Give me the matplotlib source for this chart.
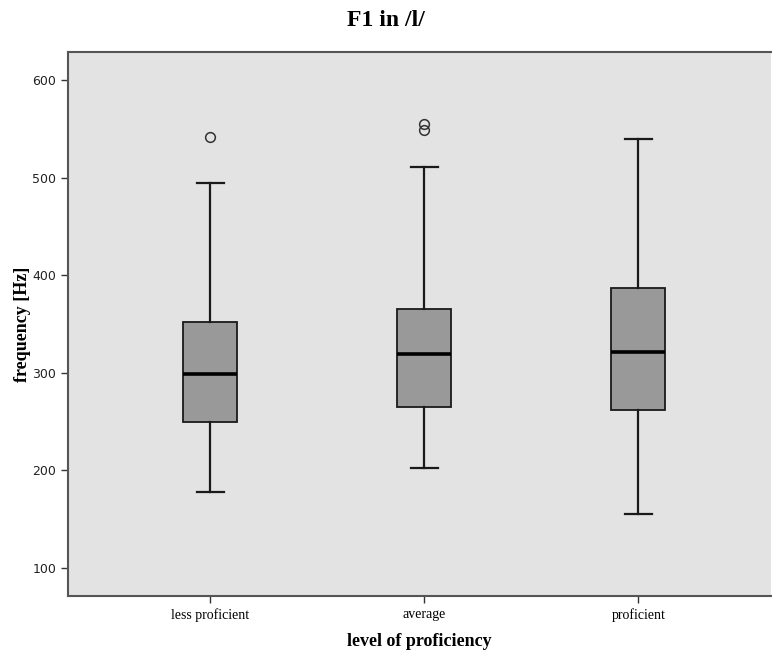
import matplotlib
matplotlib.use("Agg")
import matplotlib.pyplot as plt

categories = ["less proficient", "average", "proficient"]
whislo = [178, 202, 155]
q1 = [250, 265, 262]
med = [299, 319, 321]
q3 = [352, 365, 387]
whishi = [494, 511, 540]
fliers = [[542], [549, 555], []]
yticks = [100, 200, 300, 400, 500, 600]

stats = []
for i, c in enumerate(categories):
    stats.append(dict(label=c, whislo=whislo[i], q1=q1[i], med=med[i],
                      q3=q3[i], whishi=whishi[i], fliers=fliers[i]))

fig = plt.figure(figsize=(7.72, 6.54), dpi=100)
ax = fig.add_axes([68/772, 58/654, (771-68)/772, (596-52)/654])
ax.set_facecolor("#e3e3e3")

ax.bxp(stats, positions=range(len(categories)), widths=0.252, patch_artist=True,
       boxprops=dict(facecolor="#999999", edgecolor="#1a1a1a", linewidth=1.3),
       medianprops=dict(color="black", linewidth=2.6),
       whiskerprops=dict(color="#1a1a1a", linewidth=1.6),
       capprops=dict(color="#1a1a1a", linewidth=1.6),
       flierprops=dict(marker="o", markerfacecolor="none", markeredgecolor="#333333",
                       markersize=7, markeredgewidth=1.1))

ax.set_xlim(-0.664, 2.62)
ax.set_ylim(71.3, 628.7)
ax.set_yticks(yticks)
ax.set_yticklabels([str(v) for v in yticks], fontsize=9, family="DejaVu Sans", color="#222222")
ax.set_xticks(range(len(categories)))
ax.set_xticklabels(categories, fontsize=10, family="Liberation Serif")
ax.tick_params(axis="both", length=5, width=1, color="#333333")

for s in ["left", "bottom", "top"]:
    ax.spines[s].set_color("#555555")
    ax.spines[s].set_linewidth(1.5)
ax.spines["right"].set_visible(False)

ax.set_ylabel("frequency [Hz]", fontsize=13, fontweight="bold", family="Liberation Serif", labelpad=1)
ax.set_xlabel("level of proficiency", fontsize=13, fontweight="bold", family="Liberation Serif", labelpad=8)
fig.text(386/772, 1 - 21/654, "F1 in /l/", ha="center", va="center", fontsize=17,
         fontweight="bold", family="Liberation Serif")

fig.savefig("out.png", dpi=100)
